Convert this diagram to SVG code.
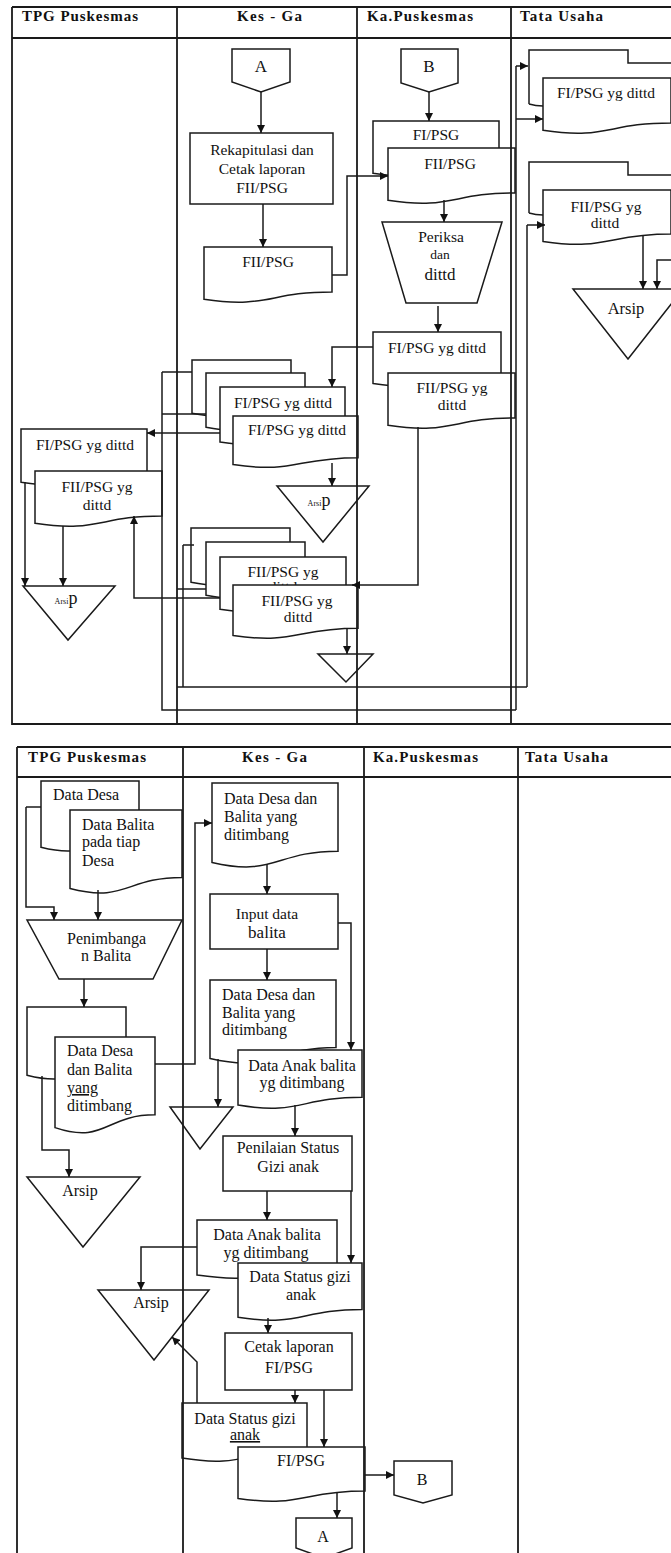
<svg xmlns="http://www.w3.org/2000/svg" width="671" height="1553" viewBox="0 0 671 1553">
<defs>
<style>
.sh{fill:#fff;stroke:#1a1a1a;stroke-width:1.5}
.ln{fill:none;stroke:#1a1a1a;stroke-width:1.5}
.fr{fill:none;stroke:#1a1a1a;stroke-width:1.8}
.ar{fill:none;stroke:#1a1a1a;stroke-width:1.5;marker-end:url(#ah)}
.h{font-family:"Liberation Serif","Times New Roman",serif;font-size:15px;font-weight:bold;fill:#111}
.t{font-family:"Liberation Serif","Times New Roman",serif;font-size:15.5px;fill:#111;text-anchor:middle}
.b{font-family:"Liberation Serif","Times New Roman",serif;font-size:16px;fill:#111;text-anchor:middle}
.bl{font-family:"Liberation Serif","Times New Roman",serif;font-size:16px;fill:#111}
</style>
<marker id="ah" viewBox="0 0 10 10" refX="10" refY="5" markerWidth="8" markerHeight="8" markerUnits="userSpaceOnUse" orient="auto"><path d="M0,0 L10,5 L0,10 z" fill="#111"/></marker>
</defs>
<rect x="0" y="0" width="671" height="1553" fill="#fff"/>

<!-- ===== TOP DIAGRAM NODES ===== -->
<g id="top-A"><path class="sh" d="M232,49 H290 V82 L261,92 L232,82 Z"/><text class="t" x="261" y="72" style="font-size:17px">A</text></g>
<g id="top-rekap"><rect class="sh" x="190" y="133" width="143" height="71"/><text class="t" x="262" y="155">Rekapitulasi dan</text><text class="t" x="262" y="174">Cetak laporan</text><text class="t" x="262" y="193">FII/PSG</text></g>
<g id="top-kes-fii"><path class="sh" d="M204,247 H332 V291.9 C268,291.9 268,309 204,299.3 Z"/><text class="t" x="268" y="267">FII/PSG</text></g>

<g id="top-B"><path class="sh" d="M401,49 H458 V83 L429,92 L401,83 Z"/><text class="t" x="429" y="72" style="font-size:17px">B</text></g>
<g id="top-ka-fi"><path class="sh" d="M373,121 H499 V165.9 C436,165.9 436,183 373,173.3 Z"/><text class="t" x="436" y="140">FI/PSG</text></g>
<g id="top-ka-fii"><path class="sh" d="M388,148 H515 V192.9 C451.5,192.9 451.5,210 388,200.3 Z"/><text class="t" x="450" y="169">FII/PSG</text></g>
<g id="top-periksa"><path class="sh" d="M382,222 H502 L477,303 H406 Z"/><text class="t" x="441" y="242">Periksa</text><text class="t" x="440" y="259" style="font-size:13.5px">dan</text><text class="t" x="440" y="280" style="font-size:17px">dittd</text></g>
<g id="top-ka-fi-dittd"><path class="sh" d="M373,332 H501 V376.1 C437,376.1 437,392.9 373,383.4 Z"/><text class="t" x="437" y="353">FI/PSG yg dittd</text></g>
<g id="top-ka-fii-dittd"><path class="sh" d="M388,373 H515 V417.9 C451.5,417.9 451.5,435 388,425.3 Z"/><text class="t" x="452" y="393">FII/PSG yg</text><text class="t" x="452" y="410">dittd</text></g>

<g id="top-kes-stack1">
<path class="sh" d="M192,360 H291 V405.7 C241.5,405.7 241.5,423.1 192,413.2 Z"/>
<path class="sh" d="M206,373 H305 V419.5 C255.5,419.5 255.5,437.2 206,427.2 Z"/>
<path class="sh" d="M220,387 H345 V434.3 C282.5,434.3 282.5,452.3 220,442.1 Z"/>
<text class="t" x="283" y="408">FI/PSG yg dittd</text>
<path class="sh" d="M233,416 H358 V457.7 C295.5,457.7 295.5,473.6 233,464.6 Z"/>
<text class="t" x="297" y="435">FI/PSG yg dittd</text>
</g>
<g id="top-kes-arsip"><path class="ln" d="M277,486 H369 L323,542 Z"/><text class="t" x="319" y="506"><tspan style="font-size:8px">Arsi</tspan><tspan style="font-size:18px">p</tspan></text></g>

<g id="top-tpg-stack">
<path class="sh" d="M21,429 H147 V474.7 C84,474.7 84,492.1 21,482.2 Z"/>
<text class="t" x="85" y="450">FI/PSG yg dittd</text>
<path class="sh" d="M35,471 H162 V515.9 C98.5,515.9 98.5,533 35,523.3 Z"/>
<text class="t" x="97" y="492">FII/PSG yg</text><text class="t" x="97" y="510">dittd</text>
</g>
<g id="top-tpg-arsip"><path class="ln" d="M23,586 H115 L68,640 Z"/><text class="t" x="66" y="604"><tspan style="font-size:8px">Arsi</tspan><tspan style="font-size:18px">p</tspan></text></g>

<g id="top-kes-stack2">
<path class="sh" d="M191,528 H290 V574.5 C240.5,574.5 240.5,592.2 191,582.2 Z"/>
<path class="sh" d="M206,542 H305 V587.7 C255.5,587.7 255.5,605.1 206,595.2 Z"/>
<path class="sh" d="M220,557 H346 V601.9 C283,601.9 283,619 220,609.3 Z"/>
<text class="t" x="283" y="577">FII/PSG yg</text><text class="t" x="283" y="592">dittd</text>
<path class="sh" d="M233,585 H358 V628.3 C295.5,628.3 295.5,644.8 233,635.4 Z"/>
<text class="t" x="297" y="606">FII/PSG yg</text><text class="t" x="298" y="622">dittd</text>
</g>
<g id="top-kes-tri"><path class="ln" d="M318,654 H373 L346,682 Z"/></g>

<g id="top-tu-fi">
<path class="ln" d="M529,104 V50 H628 V63 H671 M529,104 C534,105.5 538,106 543,106"/>
<path class="sh" d="M543,78 H671 V122.9 C607,122.9 607,140 543,130.3 Z"/>
<text class="t" x="606" y="98">FI/PSG yg dittd</text>
</g>
<g id="top-tu-fii">
<path class="ln" d="M529,213 V162 H628 V175 H671 M529,213 C534,214.5 538,215 543,215"/>
<path class="sh" d="M543,190 H671 V234.1 C607,234.1 607,250.9 543,241.4 Z"/>
<text class="t" x="606" y="212">FII/PSG yg</text><text class="t" x="605" y="228">dittd</text>
</g>
<g id="top-tu-arsip"><path class="ln" d="M573,289 H683 L628,359 Z"/><text class="t" x="626" y="314" style="font-size:16.5px">Arsip</text></g>

<!-- ===== BOTTOM DIAGRAM NODES ===== -->
<g id="bot-tpg-desa">
<path class="sh" d="M41,781 H139 V837.9 C90,837.9 90,859.6 41,847.3 Z"/>
<text class="bl" x="53" y="800">Data Desa</text>
<path class="sh" d="M70,810 H182 V877.4 C126,877.4 126,903 70,888.5 Z"/>
<text class="bl" x="82" y="830">Data Balita</text><text class="bl" x="82" y="847">pada tiap</text><text class="bl" x="82" y="866">Desa</text>
</g>
<g id="bot-penimbangan"><path class="sh" d="M27,920 H182 L153,979 H59 Z"/><text class="bl" x="67" y="944">Penimbanga</text><text class="bl" x="81" y="961">n Balita</text></g>
<g id="bot-tpg-data">
<path class="sh" d="M27,1007 H126 V1065.5 C76.5,1065.5 76.5,1087.8 27,1075.2 Z"/>
<path class="sh" d="M55,1037 H155 V1114.8 C105,1114.8 105,1144.4 55,1127.6 Z"/>
<text class="bl" x="67" y="1056">Data Desa</text><text class="bl" x="67" y="1075">dan Balita</text><text class="bl" x="67" y="1093" text-decoration="underline">yang</text><text class="bl" x="67" y="1111">ditimbang</text>
</g>
<g id="bot-tpg-arsip"><path class="ln" d="M27,1177 H140 L83,1247 Z"/><text class="b" x="80" y="1196">Arsip</text></g>

<g id="bot-kes-data1"><path class="sh" d="M212,783 H338 V851.2 C275,851.2 275,877.1 212,862.4 Z"/><text class="bl" x="224" y="804">Data Desa dan</text><text class="bl" x="224" y="822">Balita yang</text><text class="bl" x="224" y="840">ditimbang</text></g>
<g id="bot-input"><rect class="sh" x="210" y="894" width="128" height="55"/><text class="b" x="267" y="919" style="font-size:15.5px">Input data</text><text class="b" x="267" y="938" style="font-size:17px">balita</text></g>
<g id="bot-kes-stack1">
<path class="sh" d="M210,980 H336 V1047.4 C273,1047.4 273,1073 210,1058.5 Z"/>
<text class="bl" x="222" y="1000">Data Desa dan</text><text class="bl" x="222" y="1018">Balita yang</text><text class="bl" x="222" y="1035">ditimbang</text>
<path class="sh" d="M238,1050 H362 V1097.3 C300,1097.3 300,1115.3 238,1105.1 Z"/>
<text class="b" x="302" y="1071">Data Anak balita</text><text class="b" x="302" y="1088">yg ditimbang</text>
</g>
<g id="bot-kes-tri"><path class="ln" d="M170,1107 H233 L200,1149 Z"/></g>
<g id="bot-penilaian"><rect class="sh" x="223" y="1136" width="129" height="55"/><text class="b" x="288" y="1153">Penilaian Status</text><text class="b" x="288" y="1172">Gizi anak</text></g>
<g id="bot-kes-stack2">
<path class="sh" d="M197,1220 H337 V1267.3 C267,1267.3 267,1285.3 197,1275.1 Z"/>
<text class="b" x="267" y="1240">Data Anak balita</text><text class="b" x="266" y="1258">yg ditimbang</text>
<path class="sh" d="M238,1263 H362 V1309.5 C300,1309.5 300,1327.2 238,1317.2 Z"/>
<text class="b" x="300" y="1282">Data Status gizi</text><text class="b" x="301" y="1300">anak</text>
</g>
<g id="bot-arsip2"><path class="ln" d="M98,1290 H209 L154,1360 Z"/><text class="b" x="151" y="1308">Arsip</text></g>
<g id="bot-cetak"><rect class="sh" x="225" y="1333" width="127" height="57"/><text class="b" x="289" y="1352">Cetak laporan</text><text class="b" x="289" y="1373">FI/PSG</text></g>
<g id="bot-kes-stack3">
<path class="sh" d="M182,1403 H307 V1450.3 C244.5,1450.3 244.5,1468.3 182,1458.1 Z"/>
<text class="b" x="245" y="1424">Data Status gizi</text><text class="b" x="245" y="1440" text-decoration="underline">anak</text>
<path class="sh" d="M238,1447 H365 V1491.1 C301.5,1491.1 301.5,1507.9 238,1498.4 Z"/>
<text class="b" x="301" y="1466">FI/PSG</text>
</g>
<g id="bot-B"><path class="sh" d="M394,1461 H452 V1495 L423,1503 L394,1495 Z"/><text class="b" x="422" y="1485">B</text></g>
<g id="bot-A"><path class="sh" d="M296,1518 H352 V1548 L324,1558 L296,1548 Z"/><text class="b" x="323" y="1542">A</text></g>

<!-- ===== FRAMES / LANES ===== -->
<g id="frames">
<path class="fr" d="M12,7 H671 M12,38 H671 M12,7 V724 H671 M177,7 V724 M357,7 V724 M511,7 V724"/>
<path class="fr" d="M17,747 H671 M17,777 H671 M17,747 V1553 M183,747 V1553 M364,747 V1553 M518,747 V1553"/>
<text class="h" x="22" y="21" textLength="116" lengthAdjust="spacing">TPG Puskesmas</text>
<text class="h" x="237" y="21" textLength="65" lengthAdjust="spacing">Kes - Ga</text>
<text class="h" x="367" y="21" textLength="106" lengthAdjust="spacing">Ka.Puskesmas</text>
<text class="h" x="520" y="21" textLength="83" lengthAdjust="spacing">Tata Usaha</text>
<text class="h" x="28" y="762" textLength="118" lengthAdjust="spacing">TPG Puskesmas</text>
<text class="h" x="242" y="762" textLength="65" lengthAdjust="spacing">Kes - Ga</text>
<text class="h" x="373" y="762" textLength="105" lengthAdjust="spacing">Ka.Puskesmas</text>
<text class="h" x="525" y="762" textLength="83" lengthAdjust="spacing">Tata Usaha</text>
</g>

<!-- ===== CONNECTORS ===== -->
<g id="connectors">
<path class="ar" d="M261,92 V133"/>
<path class="ar" d="M263,204 V247"/>
<path class="ar" d="M332,275 H347 V176 H388"/>
<path class="ar" d="M429,92 V121"/>
<path class="ar" d="M444,200 V222"/>
<path class="ar" d="M438,306 V332"/>
<path class="ar" d="M373,347 H332 V387"/>
<path class="ar" d="M418,427 V585 H352"/>
<path class="ar" d="M332,463 V486"/>
<path class="ar" d="M220,433 H147"/>
<path class="ar" d="M25,482 V586"/>
<path class="ar" d="M63,526 V586"/>
<path class="ar" d="M220,598 H134 V516"/>
<path class="ar" d="M347,629 V654"/>
<path class="ln" d="M162,372 H192 M162,414 H206 M162,372 V710 H516"/>
<path class="ln" d="M183,545 H194 M177,589 H206 M183,545 V687 M177,687 H527"/>
<path class="ln" d="M516,66 V710"/>
<path class="ar" d="M516,66 H528"/>
<path class="ar" d="M516,119 H543"/>
<path class="ln" d="M527,225 V687"/>
<path class="ar" d="M527,225 H545"/>
<path class="ar" d="M643,235 V289"/>
<path class="ar" d="M671,260 H657 V289"/>

<path class="ln" d="M26,807 H41"/>
<path class="ar" d="M26,807 V907 H54 V920"/>
<path class="ar" d="M98,890 V920"/>
<path class="ar" d="M84,979 V1007"/>
<path class="ar" d="M42,1076 V1150 H69 V1177"/>
<path class="ar" d="M155,1064 H195 V823 H212"/>
<path class="ar" d="M267,864 V894"/>
<path class="ar" d="M338,923 H351 V1050"/>
<path class="ar" d="M267,949 V980"/>
<path class="ar" d="M218,1059 V1107"/>
<path class="ar" d="M295,1105 V1136"/>
<path class="ar" d="M351,1191 V1263"/>
<path class="ar" d="M267,1191 V1220"/>
<path class="ar" d="M197,1247 H141 V1290"/>
<path class="ar" d="M268,1318 V1333"/>
<path class="ar" d="M295,1390 V1403"/>
<path class="ar" d="M324,1390 V1447"/>
<path class="ar" d="M197,1403 V1362 L172,1337"/>
<path class="ar" d="M365,1475 H394"/>
<path class="ar" d="M337,1492 V1518"/>
</g>
</svg>
